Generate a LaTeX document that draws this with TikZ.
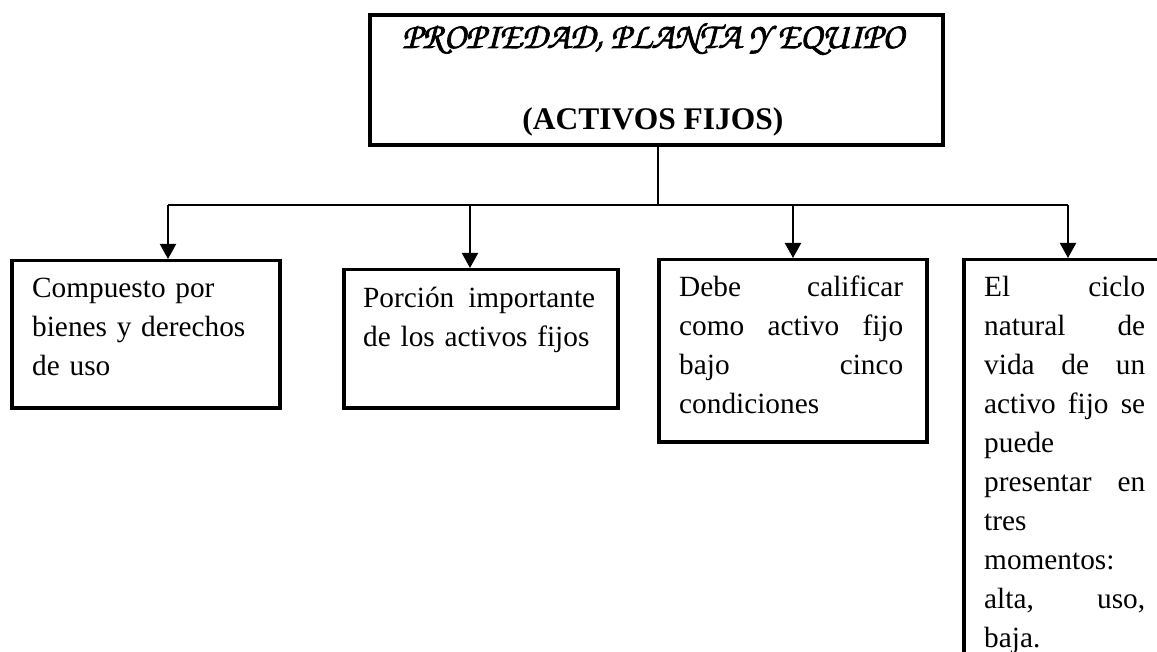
\documentclass[tikz,border=0pt]{standalone}
\usepackage[T1]{fontenc}
\usepackage{fontspec}
\setmainfont{Liberation Serif}
\usetikzlibrary{arrows.meta}
\newcommand\chancfont{\fontencoding{T1}\fontfamily{pzc}\fontseries{mb}\fontshape{it}\fontsize{36.5}{40}\selectfont}
\newcommand\heavytext[1]{\special{pdf:literal direct 2 Tr 0.7 w}#1\special{pdf:literal direct 0 Tr}}
\begin{document}
\begin{tikzpicture}[x=1pt,y=-1pt,
  tbox/.style={draw, line width=4pt, anchor=north west, inner sep=0pt},
  cbox/.style={draw, line width=3.5pt, anchor=north west, inner sep=0pt},
  body/.style={font=\fontsize{29.3}{39}\selectfont, inner sep=0pt, anchor=north west, align=left},
  conn/.style={line width=2pt},
  arr/.style={conn, -{Triangle[width=16pt,length=15pt]}}]
\useasboundingbox (0,0) rectangle (1157,652);
\fill[white] (0,0) rectangle (1157,652);
\clip (0,0) rectangle (1157,652);
% title
\node[tbox, minimum width=573pt, minimum height=130pt] (t) at (368,13) {};
\node[anchor=base, font=\chancfont, inner sep=0pt] (tl1) at (653,48) {\heavytext{PROPIEDAD, PLANTA Y EQUIPO}};
\node[anchor=base, font=\fontsize{31.5}{36}\selectfont\bfseries, inner sep=0pt] (tl2) at (653,130) {(ACTIVOS FIJOS)};
% boxes
\node[cbox, minimum width=268pt, minimum height=147pt] (b1) at (10,259) {};
\node[cbox, minimum width=274pt, minimum height=138pt] (b2) at (342,268) {};
\node[cbox, minimum width=268pt, minimum height=182pt] (b3) at (657,258) {};
\node[cbox, minimum width=260pt, minimum height=450pt] (b4) at (962,258) {};
% texts
\node[body, text width=250pt] (x1) at (32,269.7) {\strut Compuesto por\\ bienes y derechos\\ de uso};
\node[body, text width=232pt] (x2) at (363,279.7) {\strut Porción\hfill importante\\ de los activos fijos};
\node[body, text width=224pt] (x3) at (679,268.7) {\strut Debe\hfill calificar\\ como\hfill activo\hfill fijo\\ bajo\hfill cinco\\ condiciones};
\node[body, text width=161pt] (x4) at (984,268.7) {\strut El\hfill ciclo\\ natural\hfill de\\ vida\hfill de\hfill un\\ activo\hfill fijo\hfill se\\ puede\\ presentar\hfill en\\ tres\\ momentos:\\ alta,\hfill uso,\\ baja.};
% connectors
\coordinate (j) at (658,205);
\coordinate (h1) at (168,205);
\coordinate (h2) at (470,205);
\coordinate (h3) at (793,205);
\coordinate (h4) at (1068,205);
\draw[conn] (t.south -| j) -- (j);
\draw[conn] (h1) -- (h4);
\draw[arr] (h1) -- (h1 |- b1.north);
\draw[arr] (h2) -- (h2 |- b2.north);
\draw[arr] (h3) -- (h3 |- b3.north);
\draw[arr] (h4) -- (h4 |- b4.north);
\end{tikzpicture}
\end{document}
